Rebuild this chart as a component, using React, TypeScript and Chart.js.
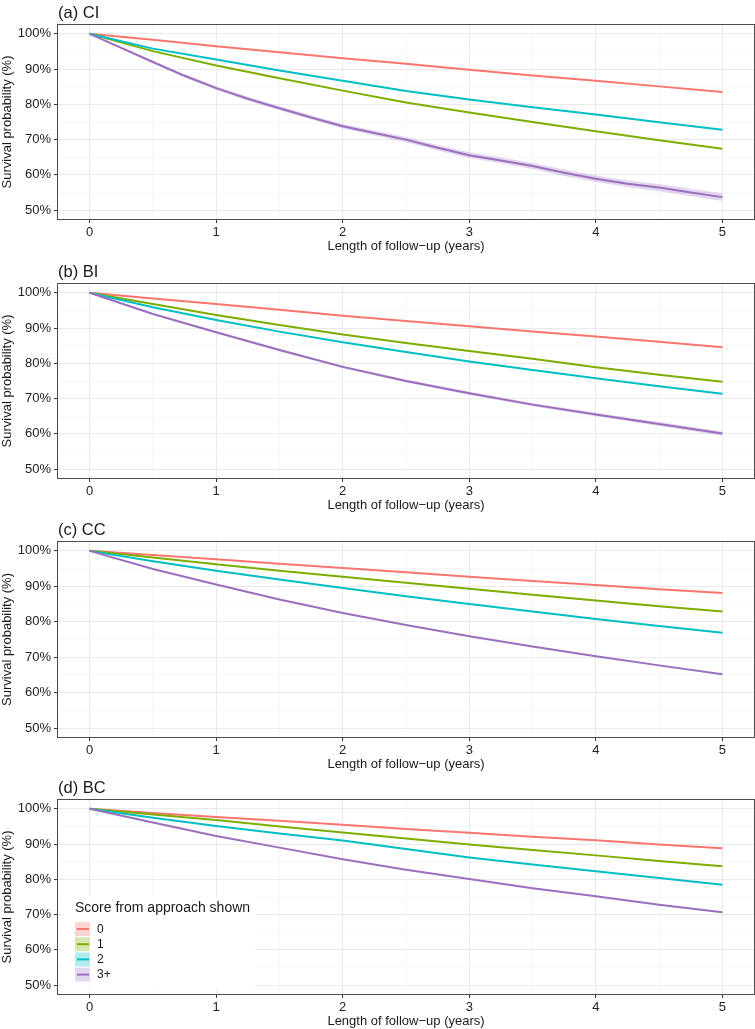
import React, { useEffect, useRef } from "react";
import { Chart, registerables } from "chart.js";

Chart.register(...registerables);

const FONT = '"Liberation Sans", Arial, Helvetica, sans-serif';

// ---------- categories / labels ----------
const seriesNames = ["0", "1", "2", "3+"];
const seriesColors = ["#F8766D", "#7CAE00", "#00BFC4", "#9B6FBF"];
const bandColors = [
  "rgba(248,118,109,0.3)",
  "rgba(124,174,0,0.3)",
  "rgba(0,191,196,0.3)",
  "rgba(155,111,191,0.28)",
];
const panelTitles = ["(a) CI", "(b) BI", "(c) CC", "(d) BC"];
const legendTitle = "Score from approach shown";
const xAxisTitle = "Length of follow\u2212up (years)";
const yAxisTitle = "Survival probability (%)";

// ---------- tick values ----------
const xTickValues = [0, 0.5, 1, 1.5, 2, 2.5, 3, 3.5, 4, 4.5, 5];
const yTickValues = [50, 55, 60, 65, 70, 75, 80, 85, 90, 95, 100];

// ---------- x positions of readings (years) ----------
const xHalfYears = [0, 0.5, 1, 1.5, 2, 2.5, 3, 3.5, 4, 4.5, 5];
const xQuarterYears = [
  0, 0.25, 0.5, 0.75, 1, 1.25, 1.5, 1.75, 2, 2.25, 2.5, 2.75, 3, 3.25, 3.5,
  3.75, 4, 4.25, 4.5, 4.75, 5,
];

// ---------- (a) CI ----------
const ciScore0 = [100, 98.3, 96.5, 94.8, 93.1, 91.5, 89.8, 88.2, 86.7, 85.1, 83.5];
const ciScore1 = [100, 95.1, 91.0, 87.4, 83.9, 80.5, 77.7, 75.0, 72.4, 69.8, 67.4];
const ciScore2 = [100, 95.8, 92.7, 89.6, 86.7, 83.8, 81.4, 79.2, 77.1, 74.9, 72.8];
const ciScore3 = [
  100, 96.0, 92.0, 88.1, 84.6, 81.6, 78.9, 76.3, 73.8, 71.9, 70.0, 67.7, 65.6,
  64.1, 62.5, 60.6, 58.9, 57.5, 56.4, 55.0, 53.7,
];
const ciScore3Band = [
  0, 0.3, 0.4, 0.45, 0.5, 0.55, 0.6, 0.62, 0.65, 0.7, 0.72, 0.75, 0.8, 0.82,
  0.85, 0.9, 0.92, 0.95, 1.0, 1.05, 1.1,
];

// ---------- (b) BI ----------
const biScore0 = [100, 98.4, 96.8, 95.2, 93.5, 92.0, 90.5, 89.0, 87.6, 86.1, 84.6];
const biScore1 = [100, 96.8, 93.7, 90.9, 88.2, 85.8, 83.5, 81.3, 78.9, 76.8, 74.8];
const biScore2 = [100, 95.9, 92.3, 89.0, 86.0, 83.2, 80.5, 78.1, 75.8, 73.5, 71.4];
const biScore3 = [100, 94.0, 88.8, 83.8, 79.0, 75.0, 71.5, 68.3, 65.5, 62.8, 60.1];
const biScore3Band = [0, 0.25, 0.3, 0.35, 0.4, 0.42, 0.45, 0.48, 0.5, 0.55, 0.6];

// ---------- (c) CC ----------
const ccScore0 = [100, 98.8, 97.6, 96.4, 95.2, 94.0, 92.7, 91.5, 90.4, 89.2, 88.1];
const ccScore1 = [100, 98.1, 96.2, 94.4, 92.7, 91.0, 89.3, 87.6, 86.0, 84.4, 82.9];
const ccScore2 = [100, 97.1, 94.4, 91.9, 89.5, 87.2, 85.0, 82.9, 80.8, 78.8, 76.9];
const ccScore3 = [100, 94.9, 90.5, 86.3, 82.5, 79.1, 75.9, 73.0, 70.3, 67.7, 65.2];

// ---------- (d) BC ----------
const bcScore0 = [100, 98.8, 97.7, 96.6, 95.5, 94.3, 93.2, 92.1, 91.1, 89.9, 88.8];
const bcScore1 = [100, 98.4, 96.8, 95.0, 93.3, 91.6, 89.9, 88.3, 86.8, 85.2, 83.7];
const bcScore2 = [100, 97.5, 95.1, 93.0, 91.0, 88.6, 86.2, 84.2, 82.3, 80.4, 78.5];
const bcScore3 = [100, 96.1, 92.3, 89.0, 85.7, 82.7, 80.1, 77.5, 75.2, 72.8, 70.7];

type Panel = {
  title: string;
  xs: number[][];
  series: number[][];
  bands: (number[] | null)[];
  legend: boolean;
};

const panels: Panel[] = [
  {
    title: panelTitles[0],
    xs: [xHalfYears, xHalfYears, xHalfYears, xQuarterYears],
    series: [ciScore0, ciScore1, ciScore2, ciScore3],
    bands: [null, null, null, ciScore3Band],
    legend: false,
  },
  {
    title: panelTitles[1],
    xs: [xHalfYears, xHalfYears, xHalfYears, xHalfYears],
    series: [biScore0, biScore1, biScore2, biScore3],
    bands: [null, null, null, biScore3Band],
    legend: false,
  },
  {
    title: panelTitles[2],
    xs: [xHalfYears, xHalfYears, xHalfYears, xHalfYears],
    series: [ccScore0, ccScore1, ccScore2, ccScore3],
    bands: [null, null, null, null],
    legend: false,
  },
  {
    title: panelTitles[3],
    xs: [xHalfYears, xHalfYears, xHalfYears, xHalfYears],
    series: [bcScore0, bcScore1, bcScore2, bcScore3],
    bands: [null, null, null, null],
    legend: true,
  },
];

const frames = [
  { top: 0, height: 254, pad: 25 },
  { top: 254, height: 259, pad: 30 },
  { top: 513, height: 259, pad: 29 },
  { top: 772, height: 257, pad: 28 },
];

function buildChart(canvas: HTMLCanvasElement, panel: Panel, pad: number) {
  const datasets: any[] = [];
  panel.series.forEach((ys, i) => {
    datasets.push({
      label: seriesNames[i],
      data: panel.xs[i].map((x, j) => ({ x, y: ys[j] })),
      borderColor: seriesColors[i],
      borderWidth: 2,
      pointRadius: 0,
      fill: false,
      tension: 0,
      order: 3 - i,
    });
  });
  panel.bands.forEach((band, i) => {
    if (!band) return;
    const ys = panel.series[i];
    const xs = panel.xs[i];
    datasets.push({
      label: "upper",
      data: xs.map((x, j) => ({ x, y: ys[j] + band[j] })),
      borderWidth: 0,
      borderColor: "rgba(0,0,0,0)",
      pointRadius: 0,
      fill: false,
      order: 20,
    });
    datasets.push({
      label: "lower",
      data: xs.map((x, j) => ({ x, y: ys[j] - band[j] })),
      borderWidth: 0,
      borderColor: "rgba(0,0,0,0)",
      backgroundColor: bandColors[i],
      pointRadius: 0,
      fill: "-1",
      order: 20,
    });
  });

  const decor = {
    id: "decor",
    afterDraw(chart: any) {
      const { ctx, chartArea } = chart;
      const { left, right, top, bottom } = chartArea;
      ctx.save();
      // panel title
      ctx.font = `16.5px ${FONT}`;
      ctx.fillStyle = "#1A1A1A";
      ctx.textAlign = "left";
      ctx.textBaseline = "middle";
      ctx.fillText(panel.title, left, top - 12);

      // legend
      if (panel.legend) {
        const lx = left + 4;
        const ly = top + 97;
        const lw = 193;
        const lh = bottom - 4 - ly;
        ctx.fillStyle = "#FFFFFF";
        ctx.fillRect(lx, ly, lw, lh);
        ctx.font = `14px ${FONT}`;
        ctx.fillStyle = "#1A1A1A";
        ctx.textBaseline = "middle";
        ctx.fillText(legendTitle, lx + 13, top + 108);
        seriesNames.forEach((name, i) => {
          const cy = top + 129 + i * 15.2;
          ctx.fillStyle = bandColors[i];
          ctx.fillRect(lx + 13, cy - 7, 15, 14);
          ctx.strokeStyle = seriesColors[i];
          ctx.lineWidth = 2;
          ctx.beginPath();
          ctx.moveTo(lx + 15, cy);
          ctx.lineTo(lx + 27, cy);
          ctx.stroke();
          ctx.font = `12px ${FONT}`;
          ctx.fillStyle = "#1A1A1A";
          ctx.fillText(name, lx + 35, cy + 0.5);
        });
      }

      // panel border
      ctx.strokeStyle = "#4D4D4D";
      ctx.lineWidth = 1;
      ctx.strokeRect(
        Math.round(left) - 0.5,
        Math.round(top) - 0.5,
        Math.round(right - left) + 1,
        Math.round(bottom - top) + 1
      );
      ctx.restore();
    },
  };

  const isMajorX = (v: number) => Number.isInteger(v);
  const isMajorY = (v: number) => v % 10 === 0;

  return new Chart(canvas, {
    type: "line",
    data: { datasets },
    plugins: [decor],
    options: {
      responsive: false,
      animation: false,
      events: [],
      layout: { padding: { top: pad, right: 1, left: 0, bottom: 0 } },
      plugins: {
        legend: { display: false },
        title: { display: false },
        tooltip: { enabled: false },
      },
      scales: {
        x: {
          type: "linear",
          min: -0.25,
          max: 5.25,
          afterBuildTicks: (scale: any) => {
            scale.ticks = xTickValues.map((v) => ({ value: v }));
          },
          afterFit: (scale: any) => {
            scale.height = 35;
          },
          border: { display: false },
          grid: {
            color: (c: any) =>
              c.tick && isMajorX(c.tick.value) ? "#EAEAEA" : "#F3F3F3",
            lineWidth: (c: any) =>
              c.tick && isMajorX(c.tick.value) ? 1.1 : 0.7,
            tickColor: (c: any) =>
              c.tick && isMajorX(c.tick.value) ? "#333333" : "rgba(0,0,0,0)",
            tickWidth: 1,
            tickLength: 4,
            drawTicks: true,
          },
          ticks: {
            autoSkip: false,
            maxRotation: 0,
            padding: 2,
            color: "#222222",
            font: { family: FONT, size: 13 },
            callback: (v: any) => (isMajorX(Number(v)) ? String(v) : ""),
          },
          title: {
            display: true,
            text: xAxisTitle,
            color: "#1A1A1A",
            font: { family: FONT, size: 13 },
            padding: { top: 0, bottom: 0 },
          },
        },
        y: {
          type: "linear",
          min: 47.5,
          max: 102.5,
          afterBuildTicks: (scale: any) => {
            scale.ticks = yTickValues.map((v) => ({ value: v }));
          },
          afterFit: (scale: any) => {
            scale.width = 58;
          },
          border: { display: false },
          grid: {
            color: (c: any) =>
              c.tick && isMajorY(c.tick.value) ? "#EAEAEA" : "#F3F3F3",
            lineWidth: (c: any) =>
              c.tick && isMajorY(c.tick.value) ? 1.1 : 0.7,
            tickColor: (c: any) =>
              c.tick && isMajorY(c.tick.value) ? "#333333" : "rgba(0,0,0,0)",
            tickWidth: 1,
            tickLength: 4,
            drawTicks: true,
          },
          ticks: {
            autoSkip: false,
            padding: 3,
            color: "#222222",
            font: { family: FONT, size: 13 },
            callback: (v: any) => (isMajorY(Number(v)) ? `${v}%` : ""),
          },
          title: {
            display: true,
            text: yAxisTitle,
            color: "#1A1A1A",
            font: { family: FONT, size: 13 },
            padding: { top: 0, bottom: 0 },
          },
        },
      },
    } as any,
  });
}

function PanelChart({ index }: { index: number }) {
  const ref = useRef<HTMLCanvasElement | null>(null);
  const frame = frames[index];
  useEffect(() => {
    if (!ref.current) return;
    const chart = buildChart(ref.current, panels[index], frame.pad);
    return () => chart.destroy();
  }, [index]);
  return (
    <canvas
      ref={ref}
      width={755}
      height={frame.height}
      style={{
        position: "absolute",
        left: 0,
        top: frame.top,
        width: 755,
        height: frame.height,
        display: "block",
      }}
    />
  );
}

export default function App() {
  return (
    <div
      style={{
        position: "absolute",
        left: 0,
        top: 0,
        width: 755,
        height: 1029,
        background: "#FFFFFF",
      }}
    >
      {panels.map((_, i) => (
        <PanelChart key={i} index={i} />
      ))}
    </div>
  );
}
